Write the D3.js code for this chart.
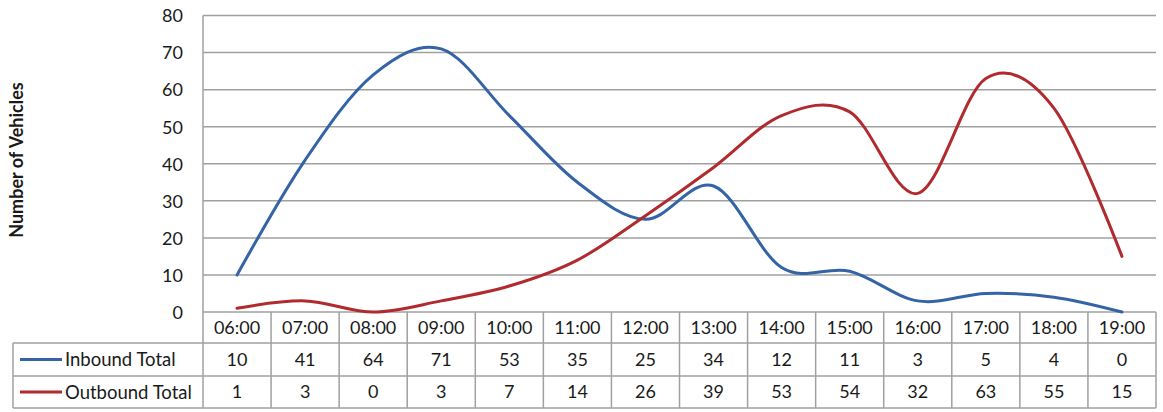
<!DOCTYPE html>
<html>
<head>
<meta charset="utf-8">
<script src="https://cdn.jsdelivr.net/npm/d3@7"></script>
<style>
  html, body { margin: 0; padding: 0; background: #fff; }
  svg { display: block; font-family: Lato, "Open Sans", sans-serif; }
</style>
</head>
<body>
<svg id="chart" width="1163" height="412"></svg>
<script>
// Hourly vehicle counts
const hours = ["06:00","07:00","08:00","09:00","10:00","11:00","12:00","13:00","14:00","15:00","16:00","17:00","18:00","19:00"];
const inbound = [10,41,64,71,53,35,25,34,12,11,3,5,4,0];
const outbound = [1,3,0,3,7,14,26,39,53,54,32,63,55,15];
const yTicks = [0,10,20,30,40,50,60,70,80];
const seriesNames = ["Inbound Total","Outbound Total"];
const seriesColors = ["#3464a6","#b02a2e"];

const svg = d3.select("#chart");
const plot = { left: 203, right: 1156, top: 15.5, bottom: 312 };
const table = { left: 13, rowTops: [312, 343, 376], bottom: 408 };

const x = d3.scaleBand().domain(hours).range([plot.left, plot.right]).padding(0);
const y = d3.scaleLinear().domain([0, 80]).range([plot.bottom, plot.top]);

const gridColor = "#a0a0a0";
const textColor = "#1a1a1a";
const fontSize = 18;

// horizontal gridlines
svg.append("g").selectAll("line").data(yTicks).join("line")
  .attr("x1", plot.left).attr("x2", plot.right)
  .attr("y1", d => y(d)).attr("y2", d => y(d))
  .attr("stroke", gridColor).attr("stroke-width", 1.5);

// y axis labels
const yAxis = d3.axisLeft(y).tickValues(yTicks).tickSize(0).tickPadding(0).tickFormat(d3.format("d"));
const gy = svg.append("g").attr("transform", `translate(${plot.left - 20},0)`).call(yAxis);
gy.select(".domain").remove();
gy.selectAll("text").attr("font-size", fontSize).attr("fill", textColor).attr("font-family", "Lato, sans-serif").attr("dy", "0.35em");

// y axis title
svg.append("text")
  .attr("transform", `translate(23,160) rotate(-90)`)
  .attr("text-anchor", "middle")
  .attr("font-size", 18).attr("font-weight", "bold").attr("fill", textColor)
  .text("Number of Vehicles");

// data table grid
const tg = svg.append("g").attr("stroke", gridColor).attr("stroke-width", 1.5);
// left axis line runs through the table
tg.append("line").attr("x1", plot.left).attr("x2", plot.left).attr("y1", plot.top).attr("y2", table.bottom);
// column separators
tg.selectAll("line.col").data(hours).join("line").attr("class", "col")
  .attr("x1", d => x(d) + x.bandwidth()).attr("x2", d => x(d) + x.bandwidth())
  .attr("y1", table.rowTops[0]).attr("y2", table.bottom);
// row separators for the series rows
tg.selectAll("line.row").data([table.rowTops[1], table.rowTops[2], table.bottom]).join("line").attr("class", "row")
  .attr("x1", table.left).attr("x2", plot.right)
  .attr("y1", d => d).attr("y2", d => d);
tg.append("line").attr("x1", table.left).attr("x2", table.left).attr("y1", table.rowTops[1]).attr("y2", table.bottom);

// header row: hour labels
const rowMid = i => ((i < 2 ? table.rowTops[i + 1] : table.bottom) + table.rowTops[i]) / 2;
svg.append("g").selectAll("text").data(hours).join("text")
  .attr("x", d => x(d) + x.bandwidth() / 2).attr("y", rowMid(0))
  .attr("dy", "0.36em").attr("text-anchor", "middle")
  .attr("font-size", fontSize).attr("fill", textColor)
  .text(d => d);

// series rows: legend key and values
[inbound, outbound].forEach((vals, si) => {
  const cy = rowMid(si + 1);
  svg.append("line")
    .attr("x1", 20).attr("x2", 62).attr("y1", cy).attr("y2", cy)
    .attr("stroke", seriesColors[si]).attr("stroke-width", 3);
  svg.append("text")
    .attr("x", 65).attr("y", cy).attr("dy", "0.36em")
    .attr("font-size", 18.5).attr("fill", textColor)
    .text(seriesNames[si]);
  svg.append("g").selectAll("text").data(vals).join("text")
    .attr("x", (d, i) => x(hours[i]) + x.bandwidth() / 2).attr("y", cy)
    .attr("dy", "0.36em").attr("text-anchor", "middle")
    .attr("font-size", fontSize).attr("fill", textColor)
    .text(d => d);
});

// smoothed series lines
const line = d3.line()
  .x((d, i) => x(hours[i]) + x.bandwidth() / 2)
  .y(d => y(d))
  .curve(d3.curveCardinal.tension(0));

[inbound, outbound].forEach((vals, si) => {
  svg.append("path").datum(vals)
    .attr("d", line)
    .attr("fill", "none")
    .attr("stroke", seriesColors[si])
    .attr("stroke-width", 3)
    .attr("stroke-linejoin", "round")
    .attr("stroke-linecap", "round");
});
</script>
</body>
</html>
